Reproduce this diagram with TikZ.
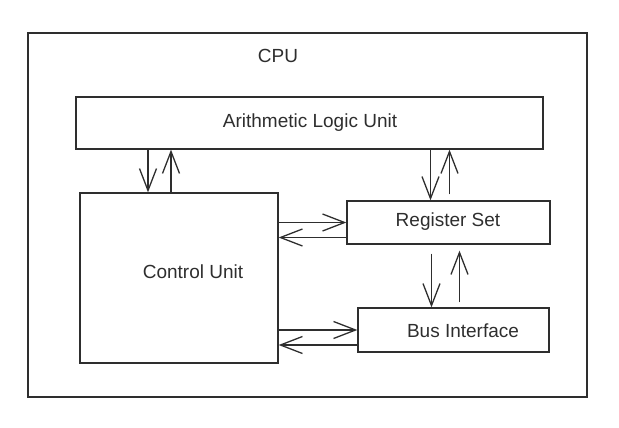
\documentclass[tikz,border=0pt]{standalone}
\usepackage{fontspec}
\setmainfont{Liberation Sans}
\usetikzlibrary{arrows.meta}
\definecolor{ink}{HTML}{2E2E2E}

\begin{document}
\begin{tikzpicture}[x=1pt,y=-1pt,bx/.style={draw=ink,line width=1.3pt,rectangle,inner sep=0pt},lb/.style={text=ink,font=\fontsize{19pt}{23pt}\selectfont},ar/.style={draw=ink,line width=1.3pt,-{Straight Barb[length=22pt,width=17pt]}}]
\useasboundingbox (0,0) rectangle (619,428);
\node[bx,minimum width=559pt,minimum height=364pt] (cpu) at (307.5,215) {};
\node[bx,minimum width=467pt,minimum height=52pt] (alu) at (309.5,123) {};
\node[bx,minimum width=198pt,minimum height=170pt] (cu) at (179,278) {};
\node[bx,minimum width=203pt,minimum height=43pt] (rs) at (448.5,222.5) {};
\node[bx,minimum width=191pt,minimum height=44pt] (bi) at (453.5,330) {};

\node[lb] (cpulbl) at (278,56) {CPU};
\node[lb] (alulbl) at (310,123) {Arithmetic Logic Unit};
\node[lb] (culbl) at (193,272) {Control Unit};
\node[lb] (rslbl) at (448,222) {Register Set};
\node[lb] (bilbl) at (463,331) {Bus Interface};

\draw[ar] ([xshift=-31pt]cu.north |- alu.south) -- ([xshift=-31pt]cu.north);
\draw[ar] ([xshift=-8pt]cu.north) -- ([xshift=-8pt]cu.north |- alu.south);
\draw[ar] ([xshift=-18pt]rs.north |- alu.south) -- ([xshift=-18pt]rs.north);
\draw[ar,shorten <=6pt] ([xshift=1pt]rs.north) -- ([xshift=1pt]rs.north |- alu.south);
\draw[ar,shorten <=9pt] ([xshift=-17pt]rs.south) -- ([xshift=-17pt]rs.south |- bi.north);
\draw[ar,shorten <=5pt,shorten >=6pt] ([xshift=11pt]rs.south |- bi.north) -- ([xshift=11pt]rs.south);
\draw[ar] (cu.east |- rs.west) -- (rs.west);
\draw[ar] ([yshift=-15pt]rs.west) -- ([yshift=-15pt]rs.west -| cu.east);
\draw[ar] (cu.east |- bi.west) -- (bi.west);
\draw[ar] ([yshift=-15pt]bi.west) -- ([yshift=-15pt]bi.west -| cu.east);

\end{tikzpicture}
\end{document}
